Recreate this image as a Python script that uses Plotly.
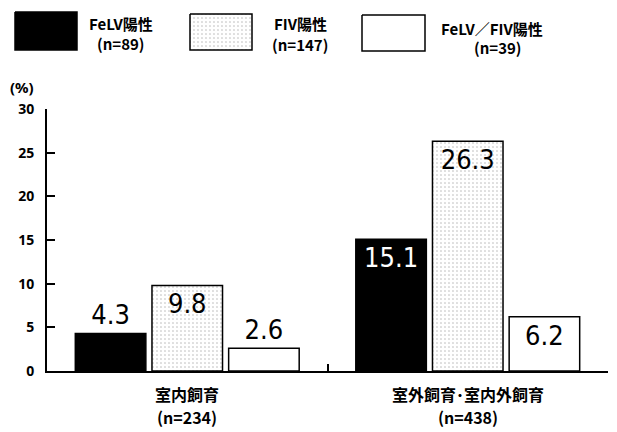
import plotly.graph_objects as go

# ---- data ----
categories = ["室内飼育", "室外飼育･室内外飼育"]
category_n = ["(n=234)", "(n=438)"]
series_names = ["FeLV陽性", "FIV陽性", "FeLV／FIV陽性"]
series_n = ["(n=89)", "(n=147)", "(n=39)"]
felv = [4.3, 15.1]
fiv = [9.8, 26.3]
both = [2.6, 6.2]
y_ticks = [0, 5, 10, 15, 20, 25, 30]

W, H = 617, 432
B = 61
PH = H - B  # plot-area height (t=0)

NUM_FONT = "Liberation Sans Narrow, DejaVu Sans Condensed, Arial Narrow, sans-serif"
JP_FONT = "Noto Sans CJK JP, sans-serif"

fig = go.Figure()

line = dict(color="black", width=1.5)
stipple = dict(shape=".", fgcolor="#6a6a6a", bgcolor="white", size=4, solidity=0.12)

fig.add_trace(go.Bar(
    x=categories, y=felv, name=series_names[0],
    marker=dict(color="black", line=line),
    text=[f"{v}" for v in felv],
    textposition=["outside", "inside"],
    insidetextanchor="end",
    textfont=dict(family=NUM_FONT, size=27, color=["black", "white"]),
    cliponaxis=False,
))
fig.add_trace(go.Bar(
    x=categories, y=fiv, name=series_names[1],
    marker=dict(color="white", line=line, pattern=stipple),
    text=[f"{v}" for v in fiv],
    textposition="inside",
    insidetextanchor="end",
    textfont=dict(family=NUM_FONT, size=27, color="black"),
    cliponaxis=False,
))
fig.add_trace(go.Bar(
    x=categories, y=both, name=series_names[2],
    marker=dict(color="white", line=line),
    text=[f"{v}" for v in both],
    textposition=["outside", "inside"],
    insidetextanchor="end",
    textfont=dict(family=NUM_FONT, size=27, color="black"),
    cliponaxis=False,
))

# ---- category labels (two lines) below the axis ----
for cat, n in zip(categories, category_n):
    for txt, shift in ((cat, -23), (n, -46)):
        fig.add_annotation(
            x=cat, y=0, xref="x", yref="y", yshift=shift,
            text=txt, showarrow=False,
            font=dict(family=JP_FONT, size=16, color="black", weight="bold"),
        )

# ---- legend drawn on a hidden pixel-coordinate overlay ----
legend_boxes = [  # (x0, x1, y0, y1) in pixels from top-left
    (15, 77, 12, 50),
    (190, 252, 14, 50),
    (362, 425, 15, 51),
]
legend_name_pos = [(121, 23), (300, 23), (492, 28)]
legend_n_pos = [(121, 43), (300, 44), (498, 47)]
legend_fill = ["black", "white", "white"]
for i, (x0, x1, y0, y1) in enumerate(legend_boxes):
    kw = dict(
        x=[x0, x1, x1, x0, x0], y=[y0, y0, y1, y1, y0],
        mode="lines", fill="toself", fillcolor=legend_fill[i],
        line=dict(color="black", width=1.5),
        xaxis="x2", yaxis="y2", showlegend=False, hoverinfo="skip",
    )
    if i == 1:
        kw["fillpattern"] = stipple
    fig.add_trace(go.Scatter(**kw))
    for txt, (tx, ty) in ((series_names[i], legend_name_pos[i]), (series_n[i], legend_n_pos[i])):
        fig.add_annotation(
            x=tx, y=ty, xref="x2", yref="y2",
            text=txt, showarrow=False,
            font=dict(family=JP_FONT, size=15, color="black", weight="bold"),
            align="center",
        )

fig.add_annotation(
    x=22, y=87, xref="x2", yref="y2", text="(%)", showarrow=False,
    font=dict(family="Noto Sans, sans-serif", size=15, color="black", weight="bold"),
)

fig.update_layout(
    width=W, height=H,
    margin=dict(l=0, r=0, t=0, b=B, autoexpand=False),
    paper_bgcolor="white",
    plot_bgcolor="rgba(0,0,0,0)",
    showlegend=False,
    barmode="group",
    bargap=0.18,
    bargroupgap=0.08,
    xaxis=dict(
        domain=[47 / W, 608 / W],
        showline=True, linecolor="black", linewidth=2,
        ticks="inside", tickson="boundaries", ticklen=7, tickwidth=1.5, tickcolor="black",
        showticklabels=False,
        showgrid=False, zeroline=False,
    ),
    yaxis=dict(
        domain=[0, (PH - 109) / PH],
        range=[0, 30],
        tickvals=y_ticks,
        showline=True, linecolor="black", linewidth=2,
        ticks="inside", ticklen=8, tickwidth=1.5, tickcolor="black",
        tickfont=dict(family="Noto Sans, sans-serif", size=14, color="black", weight="bold"),
        ticklabelstandoff=8,
        showgrid=False, zeroline=False,
    ),
    xaxis2=dict(domain=[0, 1], range=[0, W], anchor="y2", visible=False, fixedrange=True),
    yaxis2=dict(domain=[0, 1], range=[PH, 0], anchor="x2", visible=False, fixedrange=True),
)

fig.write_html("out.html")
